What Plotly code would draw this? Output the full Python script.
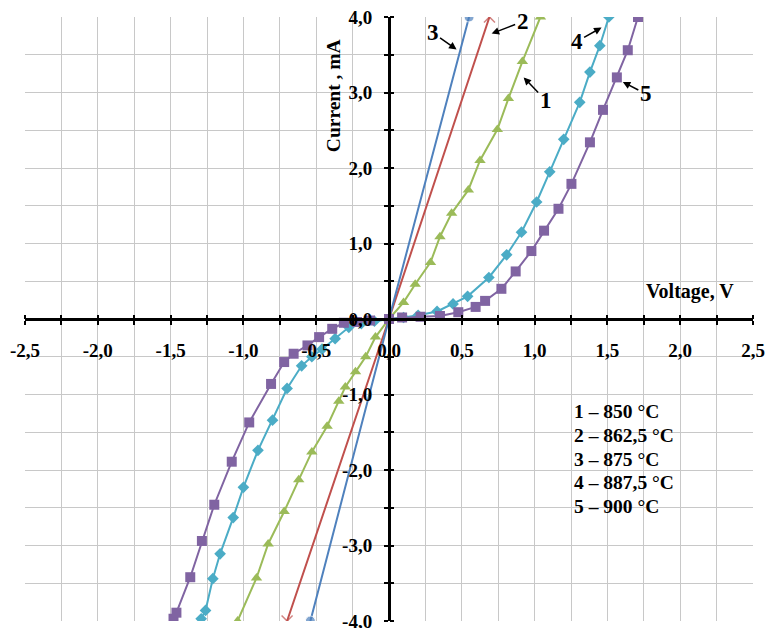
import plotly.graph_objects as go

# ---- data (Voltage V, Current mA) ----
v1 = [-1.04, -0.91, -0.83, -0.72, -0.62, -0.53, -0.425, -0.345, -0.30, -0.23, -0.16, -0.093, 0.0,
      0.10, 0.18, 0.285, 0.35, 0.43, 0.545, 0.625, 0.744, 0.82, 0.916, 1.04]
i1 = [-4.0, -3.43, -2.98, -2.55, -2.13, -1.76, -1.42, -1.09, -0.90, -0.70, -0.50, -0.24, 0.0,
      0.22, 0.46, 0.75, 1.09, 1.40, 1.71, 2.10, 2.51, 2.92, 3.41, 4.0]

v2 = [-0.70, 0.0, 0.69]
i2 = [-4.0, 0.0, 4.0]

v3 = [-0.54, 0.0, 0.55]
i3 = [-4.0, 0.0, 4.0]

v4 = [-1.29, -1.26, -1.21, -1.16, -1.07, -1.0, -0.90, -0.80, -0.70, -0.60, -0.53, -0.46, -0.37, -0.276,
      -0.19, -0.10, 0.0, 0.10, 0.20, 0.33, 0.44, 0.54, 0.686, 0.808, 0.91, 1.014, 1.104, 1.20, 1.31,
      1.38, 1.448, 1.51]
i4 = [-3.97, -3.86, -3.44, -3.11, -2.63, -2.23, -1.74, -1.34, -0.92, -0.62, -0.50, -0.40, -0.26, -0.11,
      -0.06, -0.03, 0.0, 0.02, 0.05, 0.10, 0.20, 0.30, 0.55, 0.85, 1.15, 1.55, 1.95, 2.38, 2.87,
      3.27, 3.62, 4.0]

v5 = [-1.48, -1.46, -1.365, -1.285, -1.20, -1.08, -0.96, -0.81, -0.72, -0.655, -0.56, -0.48, -0.39,
      -0.31, -0.22, -0.13, 0.0, 0.09, 0.217, 0.35, 0.476, 0.595, 0.66, 0.772, 0.87, 0.978, 1.065,
      1.164, 1.253, 1.38, 1.47, 1.565, 1.64, 1.71]
i5 = [-3.97, -3.89, -3.42, -2.94, -2.46, -1.89, -1.37, -0.86, -0.57, -0.46, -0.35, -0.24, -0.13,
      -0.05, -0.04, -0.02, 0.0, 0.02, 0.03, 0.04, 0.09, 0.16, 0.24, 0.40, 0.63, 0.90, 1.17,
      1.46, 1.79, 2.34, 2.77, 3.20, 3.56, 4.0]

x_ticks = [-2.5, -2.0, -1.5, -1.0, -0.5, 0.0, 0.5, 1.0, 1.5, 2.0, 2.5]
x_ticktext = ["-2,5", "-2,0", "-1,5", "-1,0", "-0,5", "0,0", "0,5", "1,0", "1,5", "2,0", "2,5"]
y_ticks = [-4.0, -3.0, -2.0, -1.0, 0.0, 1.0, 2.0, 3.0, 4.0]
y_ticktext = ["-4,0", "-3,0", "-2,0", "-1,0", "0,0", "1,0", "2,0", "3,0", "4,0"]

legend_lines = ["1 – 850 °C", "2 – 862,5 °C", "3 – 875 °C", "4 – 887,5 °C", "5 – 900 °C"]

SERIF = "Liberation Serif"
BLUE, RED, GREEN, CYAN, PURPLE = "#4F81BD", "#C0504D", "#9BBB59", "#4BACC6", "#8064A2"

fig = go.Figure()
fig.add_trace(go.Scatter(x=v1, y=i1, mode="lines+markers", line=dict(color=GREEN, width=2),
                         marker=dict(symbol="triangle-up", size=10, color=GREEN)))
fig.add_trace(go.Scatter(x=v2, y=i2, mode="lines+markers", line=dict(color=RED, width=2),
                         marker=dict(symbol="x-thin", size=[11, 0, 11], color=RED,
                                     line=dict(color=RED, width=1.5))))
fig.add_trace(go.Scatter(x=v3, y=i3, mode="lines+markers", line=dict(color=BLUE, width=2),
                         marker=dict(symbol="circle", size=[10, 0, 10], color=BLUE)))
fig.add_trace(go.Scatter(x=v4, y=i4, mode="lines+markers", line=dict(color=CYAN, width=2),
                         marker=dict(symbol="diamond", size=9, color=CYAN)))
fig.add_trace(go.Scatter(x=v5, y=i5, mode="lines+markers", line=dict(color=PURPLE, width=2),
                         marker=dict(symbol="square", size=10, color=PURPLE)))
# helper trace so the mirrored tick axes are rendered
fig.add_trace(go.Scatter(x=[0], y=[0], xaxis="x2", yaxis="y2", mode="markers",
                         marker=dict(opacity=0), hoverinfo="skip"))

grid_col = "#C8C8C8"
tickfont = dict(family=SERIF, size=19, color="black", weight="bold")
YR = [-4.0, 4.0]

fig.update_layout(
    width=766, height=628,
    margin=dict(l=25, r=13, t=17, b=7, autoexpand=False),
    paper_bgcolor="white", plot_bgcolor="white",
    showlegend=False,
    xaxis=dict(range=[-2.5, 2.5], anchor="free", position=0.5, side="bottom", automargin=False,
               tickvals=x_ticks, ticktext=x_ticktext, tickfont=tickfont,
               ticklabeloverflow="allow",
               showline=True, linecolor="black", linewidth=3,
               ticks="outside", ticklen=4, tickwidth=2, tickcolor="black",
               ticklabelstandoff=9,
               showgrid=True, gridcolor=grid_col, gridwidth=1, zeroline=False,
               minor=dict(dtick=0.25, tick0=0, showgrid=True, gridcolor=grid_col, gridwidth=1,
                          ticks="outside", ticklen=4, tickwidth=2, tickcolor="black")),
    yaxis=dict(range=YR, anchor="free", position=0.5, side="left", automargin=False,
               tickvals=y_ticks, ticktext=y_ticktext, tickfont=tickfont,
               ticklabeloverflow="allow",
               showline=True, linecolor="black", linewidth=3,
               ticks="outside", ticklen=4, tickwidth=2, tickcolor="black",
               ticklabelstandoff=8,
               showgrid=True, gridcolor=grid_col, gridwidth=1, zeroline=False,
               minor=dict(dtick=0.5, tick0=0, showgrid=True, gridcolor=grid_col, gridwidth=1,
                          ticks="outside", ticklen=4, tickwidth=2, tickcolor="black")),
    xaxis2=dict(range=[-2.5, 2.5], overlaying="x", anchor="free", position=0.5, side="top",
                automargin=False,
                tickvals=x_ticks, showticklabels=False, showgrid=False, zeroline=False,
                ticks="outside", ticklen=4, tickwidth=2, tickcolor="black",
                minor=dict(dtick=0.25, tick0=0, ticks="outside", ticklen=4, tickwidth=2,
                           tickcolor="black", showgrid=False)),
    yaxis2=dict(range=YR, overlaying="y", anchor="free", position=0.5, side="right",
                automargin=False,
                tickvals=y_ticks, showticklabels=False, showgrid=False, zeroline=False,
                ticks="outside", ticklen=4, tickwidth=2, tickcolor="black",
                minor=dict(dtick=0.5, tick0=0, ticks="outside", ticklen=4, tickwidth=2,
                           tickcolor="black", showgrid=False)),
)

annots = []
# axis titles
annots.append(dict(x=-0.38, y=2.96, xref="x", yref="y", text="<b>Current , mA</b>", textangle=-90,
                   showarrow=False, font=dict(family=SERIF, size=19.5, color="black")))
annots.append(dict(x=2.067, y=0.37, xref="x", yref="y", text="<b>Voltage, V</b>",
                   showarrow=False, font=dict(family=SERIF, size=20, color="black")))
# curve number labels with arrows
num_font = dict(family=SERIF, size=23, color="black")
for txt, hx, hy, ax, ay in [("3", 0.464, 3.57, -24, -17), ("2", 0.705, 3.78, 31, -12),
                            ("1", 0.925, 3.20, 22, 23), ("4", 1.46, 3.86, -25, 14),
                            ("5", 1.606, 3.14, 23, 12)]:
    annots.append(dict(x=hx, y=hy, xref="x", yref="y", text="<b>%s</b>" % txt, showarrow=True,
                       ax=ax, ay=ay, arrowhead=2, arrowsize=1, arrowwidth=1.5, arrowcolor="black",
                       standoff=0, font=num_font))
# temperature key
for k, line in enumerate(legend_lines):
    annots.append(dict(x=1.26, y=-1.225 - k * 0.315, xref="x", yref="y", text="<b>%s</b>" % line,
                       xanchor="left", showarrow=False,
                       font=dict(family=SERIF, size=19.5, color="black")))
fig.update_layout(annotations=annots)

fig.write_html("out.html", config={"displayModeBar": False},
               post_script="document.body.style.margin='0';document.body.style.overflow='hidden';")
